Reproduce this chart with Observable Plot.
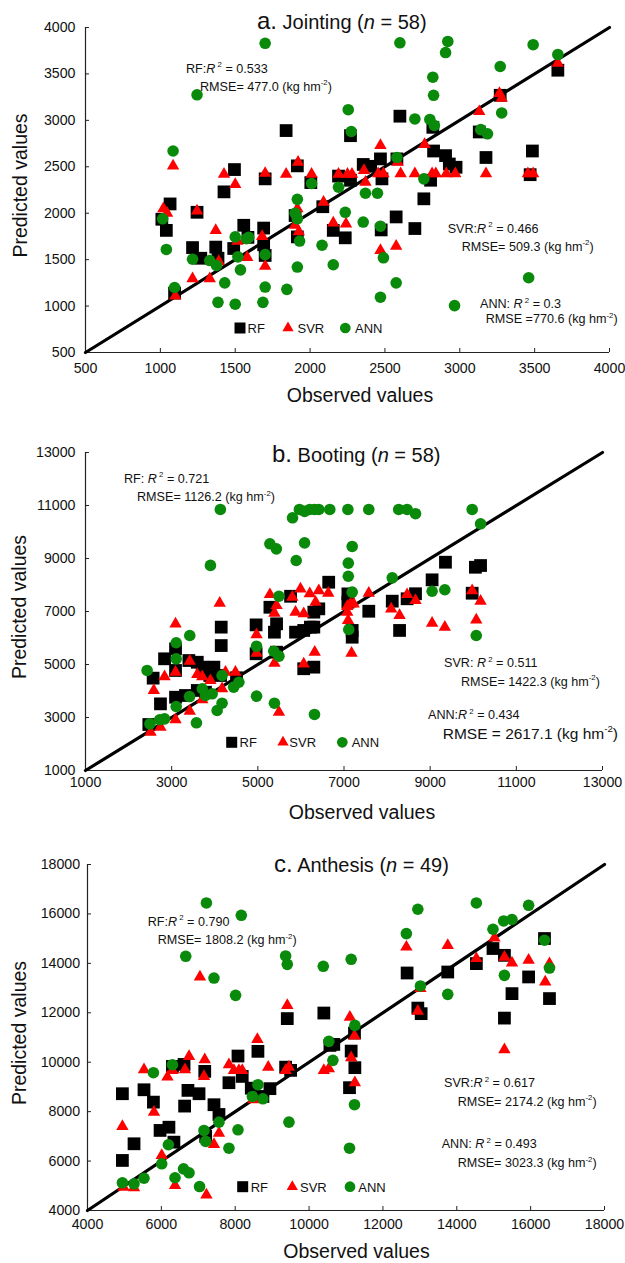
<!DOCTYPE html>
<html><head><meta charset="utf-8">
<script src="https://cdn.jsdelivr.net/npm/d3@7"></script>
<script src="https://cdn.jsdelivr.net/npm/@observablehq/plot@0.6"></script>
<style>
body{margin:0;background:#fff;}
#wrap{position:relative;width:625px;height:1263px;overflow:hidden;font-family:"Liberation Sans",Arial,Helvetica,sans-serif;}
#wrap svg{position:absolute;left:0;}
</style></head><body><div id="wrap"></div>
<script>
// ---------- data: [observed, predicted] ----------
const jointingRF = [[1010,1935],[1040,1815],[1065,2100],[1095,1140],[1215,1630],[1245,2010],[1270,1515],[1370,1635],[1385,1515],[1425,2230],[1490,1620],[1495,2470],[1557,1870],[1585,1740],[1690,1840],[1690,1660],[1700,1545],[1700,2370],[1840,2890],[1900,1975],[1915,2510],[1915,1745],[2005,2330],[2085,2070],[2155,1815],[2190,2400],[2235,1735],[2270,2835],[2270,2355],[2355,2525],[2405,2505],[2470,2585],[2475,1820],[2480,2370],[2575,1960],[2580,2585],[2600,3045],[2700,1835],[2760,2155],[2805,2355],[2820,2925],[2825,2670],[2905,2620],[2930,2530],[2975,2495],[3130,2875],[3175,2600],[3270,3270],[3470,2415],[3485,2670],[3655,3540]];
const jointingSVR = [[1020,2050],[1045,2000],[1085,2510],[1100,1110],[1215,1295],[1245,2025],[1330,1295],[1370,1815],[1390,1480],[1425,2420],[1500,2310],[1515,1700],[1580,1525],[1680,1750],[1700,2430],[1700,1430],[1840,2420],[1900,1870],[1915,2050],[1920,2550],[1925,1800],[2010,2420],[2090,2120],[2155,1895],[2190,2420],[2240,1885],[2250,2420],[2280,2420],[2360,2460],[2370,2335],[2455,2425],[2470,2730],[2470,1600],[2490,2425],[2575,1645],[2585,2550],[2605,2425],[2700,2425],[2765,2740],[2815,2425],[2840,2425],[2910,2425],[2970,2425],[3130,3095],[3175,2425],[3265,3290],[3280,3240],[3455,2425],[3490,2425],[3655,3615]];
const jointingANN = [[1015,1940],[1040,1610],[1085,2670],[1095,1200],[1215,1505],[1245,3275],[1330,1490],[1375,1437],[1385,1040],[1430,1250],[1500,1745],[1500,1020],[1518,1530],[1535,1390],[1575,1725],[1590,1740],[1685,1040],[1700,1205],[1700,1555],[1700,3830],[1845,1180],[1900,2000],[1915,2150],[1915,1940],[1915,1420],[1930,1700],[2010,2320],[2080,1655],[2155,1445],[2190,2280],[2235,2010],[2255,3115],[2275,2880],[2355,1905],[2370,2215],[2450,2215],[2470,1860],[2470,1095],[2490,1520],[2575,1250],[2580,2600],[2600,3835],[2700,3015],[2760,2370],[2800,3010],[2820,3465],[2825,3270],[2830,2945],[2905,3730],[2920,3850],[2965,1005],[3140,2900],[3185,2855],[3270,3580],[3280,3080],[3460,1305],[3490,3815],[3655,3710]];

const bootingRF = [[2470,2735],[2570,4485],[2740,3515],[2835,5215],[3090,5590],[3090,4775],[3090,3765],[3320,3830],[3400,5150],[3595,5085],[3710,4900],[3595,4020],[3785,3955],[3885,4585],[3980,4900],[4135,4585],[4150,6410],[4150,5715],[4505,4500],[4960,6495],[4960,5405],[5280,7160],[5385,6220],[5435,6535],[5435,5465],[5760,7575],[5875,6220],[6065,6285],[6065,4840],[6300,6975],[6300,6410],[6300,4900],[6415,7100],[6220,6410],[6645,8105],[7090,7665],[7090,7350],[7190,6285],[7190,6030],[7575,7010],[8120,7390],[8290,6285],[8465,7480],[8660,7670],[9045,8195],[9355,8860],[9975,7690],[10050,8670],[10170,8735]];
const bootingSVR = [[2510,2445],[2585,4020],[2740,2635],[2835,4545],[3090,6535],[3090,4710],[3090,2915],[3420,5125],[3420,3240],[3595,4625],[3710,4545],[3710,3670],[3900,4395],[4115,7315],[4170,4085],[4250,4710],[4480,4710],[4970,6130],[4970,5425],[5280,7640],[5385,6935],[5435,7225],[5385,5050],[5490,3200],[5800,7540],[5875,6975],[5990,7855],[6065,6915],[6065,5025],[6205,7670],[6340,7350],[6320,5465],[6415,7790],[6635,7690],[7075,7190],[7150,7290],[7225,7290],[7095,6660],[7075,6975],[7175,5425],[7575,7690],[8095,7100],[8290,6850],[8465,7640],[8660,7415],[9045,6560],[9340,6410],[9975,7790],[10170,7390],[10070,6685]];
const bootingANN = [[2430,4775],[2495,2760],[2720,2915],[2835,2950],[3105,5820],[3105,5215],[3105,3415],[3420,6095],[3415,3790],[3575,2800],[3710,4085],[3785,3830],[3900,8740],[3940,3895],[4055,3265],[4130,10850],[4170,3540],[4170,4585],[4440,4145],[4560,4330],[4970,3805],[4970,5690],[5280,9555],[5385,3540],[5370,5500],[5430,9365],[5490,7575],[5490,5315],[5805,10535],[5890,8925],[5965,10850],[6085,10780],[6085,9590],[6205,10850],[6315,10850],[6315,3115],[6415,10850],[6670,10850],[7090,10850],[7100,8825],[7100,8330],[7110,6320],[7190,9455],[7190,7730],[7575,10850],[8120,8270],[8270,10850],[8465,10850],[8660,10690],[9045,7765],[9340,7820],[9975,10850],[10070,6095],[10170,10310]];

const anthesisRF = [[4945,8725],[4945,6025],[5260,6700],[5530,8885],[5785,8385],[5965,7240],[6205,7370],[6340,6765],[6300,9830],[6615,9910],[6630,8225],[6720,8860],[7020,8725],[7175,9630],[7200,7000],[7425,8280],[7560,7885],[7830,9170],[8075,10250],[8190,9425],[8435,8950],[8615,10440],[8750,8615],[8940,8930],[9365,9800],[9500,9670],[9410,11765],[10400,11990],[10565,10680],[10670,10720],[11140,10450],[11240,9780],[11095,8970],[11230,11180],[12655,13610],[12945,12190],[13035,11965],[13755,13650],[14530,13990],[14980,14600],[15290,14325],[15290,11785],[15495,12775],[15945,13450],[16375,15005],[16510,12575]];
const anthesisSVR = [[4945,7400],[4975,4945],[5260,4920],[5530,9695],[5800,7980],[6010,6225],[6165,9400],[6300,9670],[6370,5010],[6640,9695],[6750,10235],[7045,13450],[7155,9425],[7175,10100],[7220,4635],[7425,6670],[7560,7130],[7830,9900],[7965,9670],[8100,9670],[8190,9670],[8490,8480],[8600,10925],[8895,9800],[9365,9670],[9410,12300],[9455,9800],[10400,9670],[10535,9740],[11105,11825],[11230,11060],[11140,10180],[11240,9170],[12635,14660],[12945,12070],[13015,12990],[13755,14730],[14530,14195],[15020,15025],[15290,14255],[15290,10505],[15495,14015],[15945,14125],[16395,13245],[16510,13990]];
const anthesisANN = [[4945,5120],[5260,5080],[5530,5305],[5785,9575],[6010,5890],[6190,6660],[6300,9900],[6370,5325],[6600,5685],[6660,14285],[6750,5525],[7035,4970],[7155,7240],[7200,6795],[7220,16445],[7425,13405],[7560,7575],[7830,6520],[8010,12705],[8075,7265],[8165,15945],[8465,8615],[8615,9090],[8750,8520],[9365,14300],[9410,13960],[9455,7575],[10385,13880],[10535,10845],[10645,10075],[11095,6520],[11140,14165],[11230,8280],[11240,11490],[12635,15205],[12945,16190],[13015,13085],[13755,12745],[14530,16445],[14980,15380],[15270,15715],[15290,13515],[15495,15775],[15945,16350],[16375,14935],[16510,13810]];

const jointingTicks = [500,1000,1500,2000,2500,3000,3500,4000];
const bootingTicks = [1000,3000,5000,7000,9000,11000,13000];
const anthesisTicks = [4000,6000,8000,10000,12000,14000,16000,18000];

const seriesNames = ["RF","SVR","ANN"];
const seriesColors = {RF:"#000000", SVR:"#ff0000", ANN:"#0a8a0a"};
const xLabel = "Observed values";
const yLabel = "Predicted values";

// ---------- panels ----------
const panels = [
  {letter:"a.", name:"Jointing", n:58, rf:jointingRF, svr:jointingSVR, ann:jointingANN, ticks:jointingTicks,
   top:0, h:420, mt:27, mr:16, mb:68, ml:85, xpad:10.5, ypad:10,
   titleX:257, titleY:29.3, xlabY:402, xlabX:360, ylabX:26.5,
   legend:{y:328, sq:240, tri:288, circ:345.3, rfX:247.5, svrX:297.5, annX:355},
   notes:[
     {x:186, y:72.5, segs:[["RF:"],["R","i"],[" 2","sup"],[" = 0.533"]]},
     {x:200, y:90.5, segs:[["RMSE= 477.0 (kg hm"],["-2","sup"],[")"]]},
     {x:447.7, y:232.5, segs:[["SVR:"],["R","i"],[" 2","sup"],[" = 0.466"]]},
     {x:461.7, y:250.5, segs:[["RMSE= 509.3 (kg hm"],["-2","sup"],[")"]]},
     {x:480, y:308, segs:[["ANN: "],["R","i"],[" 2","sup"],[" = 0.3"]]},
     {x:485.7, y:323, segs:[["RMSE =770.6 (kg hm"],["-2","sup"],[")"]]}
   ]},
  {letter:"b.", name:"Booting", n:58, rf:bootingRF, svr:bootingSVR, ann:bootingANN, ticks:bootingTicks,
   top:420, h:410, mt:32, mr:23, mb:60, ml:85, xpad:6.7, ypad:10,
   titleX:272, titleY:41.7, xlabY:399.3, xlabX:362, ylabX:25.7,
   legend:{y:322.3, sq:231.7, tri:283, circ:342.3, rfX:239.5, svrX:289.3, annX:351.7},
   notes:[
     {x:124, y:62.5, segs:[["RF: "],["R","i"],[" 2","sup"],[" = 0.721"]]},
     {x:137, y:81, segs:[["RMSE= 1126.2 (kg hm"],["-2","sup"],[")"]]},
     {x:444, y:247, segs:[["SVR: "],["R","i"],[" 2","sup"],[" = 0.511"]]},
     {x:461, y:265.5, segs:[["RMSE= 1422.3 (kg hm"],["-2","sup"],[")"]]},
     {x:428, y:299, segs:[["ANN:"],["R","i"],[" 2","sup"],[" = 0.434"]]},
     {x:442.7, y:319, fs:15.5, segs:[["RMSE = 2617.1 (kg hm"],["-2","sup"],[")"]]}
   ]},
  {letter:"c.", name:"Anthesis", n:49, rf:anthesisRF, svr:anthesisSVR, ann:anthesisANN, ticks:anthesisTicks,
   top:830, h:433, mt:34, mr:21, mb:53, ml:87, xpad:8.3, ypad:7.4,
   titleX:274, titleY:41.7, xlabY:428, xlabX:356.5, ylabX:26,
   legend:{y:356.7, sq:242.7, tri:292.3, circ:350, rfX:250.7, svrX:300, annX:358.3},
   notes:[
     {x:147.7, y:95.5, segs:[["RF:"],["R","i"],[" 2","sup"],[" = 0.790"]]},
     {x:157.7, y:114, segs:[["RMSE= 1808.2 (kg hm"],["-2","sup"],[")"]]},
     {x:444, y:257, segs:[["SVR:"],["R","i"],[" 2","sup"],[" = 0.617"]]},
     {x:457.7, y:275.5, segs:[["RMSE= 2174.2 (kg hm"],["-2","sup"],[")"]]},
     {x:441.7, y:318, segs:[["ANN: "],["R","i"],[" 2","sup"],[" = 0.493"]]},
     {x:457.7, y:337, segs:[["RMSE= 3023.3 (kg hm"],["-2","sup"],[")"]]}
   ]}
];

const FONT = '"Liberation Sans",Arial,Helvetica,sans-serif';

function rich(svg, x, y, segs, fs, opts = {}) {
  const t = d3.select(svg).append("text")
    .attr("x", x).attr("y", y)
    .attr("font-size", fs).attr("fill", "#111")
    .attr("font-family", FONT)
    .attr("text-anchor", opts.anchor || "start")
    .style("white-space", "pre");
  if (opts.transform) t.attr("transform", opts.transform);
  let shift = 0;
  for (const [s, k] of segs) {
    const ts = t.append("tspan").text(s);
    const target = k === "sup" ? -0.42 * fs : 0;
    ts.attr("dy", target - shift);
    shift = target;
    if (k === "sup") ts.attr("font-size", fs * 0.62);
    if (k === "i") ts.attr("font-style", "italic");
    if (k === "big") ts.attr("font-size", fs * 1.2);
  }
  return t;
}

const wrap = document.getElementById("wrap");

for (const p of panels) {
  const lo = p.ticks[0], hi = p.ticks[p.ticks.length - 1];
  const innerW = 625 - p.ml - p.mr, innerH = p.h - p.mt - p.mb;
  const svg = Plot.plot({
    width: 625, height: p.h,
    marginTop: p.mt, marginRight: p.mr, marginBottom: p.mb, marginLeft: p.ml,
    style: {fontFamily: FONT, background: "transparent", color: "#111", overflow: "visible"},
    x: {domain: [lo, hi]},
    y: {domain: [lo, hi]},
    marks: [
      Plot.axisX({ticks: p.ticks, tickSize: 0, tickPadding: p.xpad, fontSize: 14.2, label: null, tickFormat: d => String(d)}),
      Plot.axisY({ticks: p.ticks, tickSize: 0, tickPadding: p.ypad, fontSize: 14.2, label: null, tickFormat: d => String(d)}),
      Plot.tickX(p.ticks, {x: d => d, insetTop: innerH - 4, stroke: "#222"}),
      Plot.tickY(p.ticks, {y: d => d, insetRight: innerW - 4, stroke: "#222"}),
      Plot.ruleX([lo], {stroke: "#222", strokeWidth: 1.2}),
      Plot.ruleY([lo], {stroke: "#222", strokeWidth: 1.2}),
      Plot.line([[lo, lo], [hi, hi]], {x: d => d[0], y: d => d[1], stroke: "black", strokeWidth: 3.2}),
      Plot.dot(p.rf, {x: d => d[0], y: d => d[1], symbol: "square", r: 7.2, fill: seriesColors.RF}),
      Plot.dot(p.svr, {x: d => d[0], y: d => d[1], symbol: "triangle", r: 4.6, fill: seriesColors.SVR}),
      Plot.dot(p.ann, {x: d => d[0], y: d => d[1], symbol: "circle", r: 5.8, fill: seriesColors.ANN})
    ]
  });
  svg.style.top = p.top + "px";
  wrap.appendChild(svg);

  // title
  rich(svg, p.titleX, p.titleY, [[p.letter, "big"], [" " + p.name + " ("], ["n", "i"], [" = " + p.n + ")"]], 20);
  // axis labels
  rich(svg, p.xlabX, p.xlabY, [[xLabel]], 19.5, {anchor: "middle"});
  const yc = p.mt + innerH / 2 - 4;
  rich(svg, 0, 0, [[yLabel]], 19.5, {anchor: "middle", transform: `translate(${p.ylabX},${yc}) rotate(-90)`});
  // notes
  for (const nt of p.notes) rich(svg, nt.x, nt.y, nt.segs, nt.fs || 12.6);
  // legend
  const L = p.legend, g = d3.select(svg).append("g");
  const sym = (type, size, cx, color) => g.append("path")
    .attr("d", d3.symbol(type, size)()).attr("transform", `translate(${cx},${L.y})`).attr("fill", color);
  sym(d3.symbolSquare, 121, L.sq, seriesColors.RF);
  sym(d3.symbolTriangle, 55, L.tri, seriesColors.SVR);
  sym(d3.symbolCircle, 90, L.circ, seriesColors.ANN);
  rich(svg, L.rfX, L.y + 4.8, [[seriesNames[0]]], 13);
  rich(svg, L.svrX, L.y + 4.8, [[seriesNames[1]]], 13);
  rich(svg, L.annX, L.y + 4.8, [[seriesNames[2]]], 13);
}
</script></body></html>
